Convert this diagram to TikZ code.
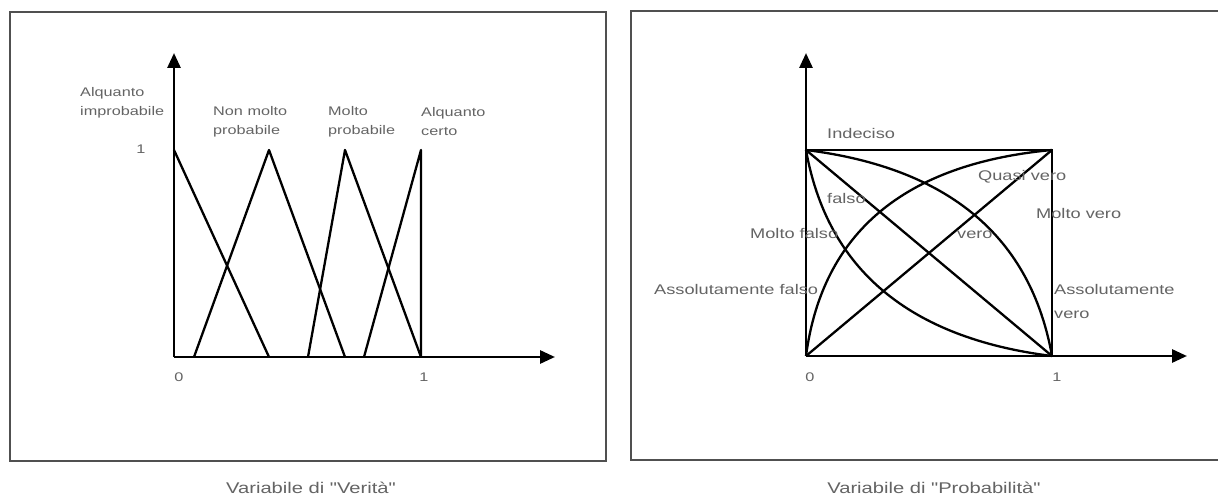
\documentclass[tikz,border=0pt]{standalone}
\usepackage{fontspec}
\setmainfont{Liberation Sans}
\newfontfamily\labfont[FakeStretch=1.3]{Liberation Sans}
\usetikzlibrary{arrows.meta}
\definecolor{txtgray}{RGB}{100,100,100}
\definecolor{framegray}{RGB}{80,80,80}
\begin{document}
\begin{tikzpicture}[x=1pt,y=-1pt,
  lbl/.style={font=\labfont\fontsize{12.5}{19}\selectfont, text=txtgray, inner sep=0pt, align=left, anchor=west},
  rlbl/.style={font=\labfont\fontsize{14}{24}\selectfont, text=txtgray, inner sep=0pt, align=left, anchor=west},
  ticklbl/.style={font=\labfont\fontsize{12.5}{14}\selectfont, text=txtgray, inner sep=0pt},
  captxt/.style={font=\labfont\fontsize{15.5}{18}\selectfont, text=txtgray, inner sep=0pt},
  framebox/.style={draw=framegray, line width=2.2pt},
  axisline/.style={draw=black, line width=2.8pt, -{Triangle[length=15pt,width=13pt]}},
  crv/.style={draw=black, line width=2.3pt, line join=round},
  sqedge/.style={draw=black, line width=2.8pt}]
\useasboundingbox (0,0) rectangle (1218,497);
\fill[white] (0,0) rectangle (1218,497);
% frames
\draw[framebox] (10,12) rectangle (606,461);
\draw[framebox] (1222,11) -- (631,11) -- (631,460) -- (1222,460);

% ---------- left panel ----------
\coordinate (O1) at (174,357);
\coordinate (Y1) at (174,53);
\coordinate (X1) at (555,357);
\coordinate (P0) at (174,150);
\coordinate (A1) at (269,357);
\coordinate (B0) at (194,357);
\coordinate (B1) at (269,150);
\coordinate (B2) at (345,357);
\coordinate (C0) at (308,357);
\coordinate (C1) at (345,150);
\coordinate (C2) at (421,357);
\coordinate (D0) at (364,357);
\coordinate (D1) at (421,150);
\draw[axisline] (O1) -- (Y1);
\draw[axisline] (O1) -- (X1);
\draw[crv] (P0) -- (A1);
\draw[crv] (B0) -- (B1) -- (B2);
\draw[crv] (C0) -- (C1) -- (C2);
\draw[crv] (D0) -- (D1) -- (C2);

\node[lbl] (l1) at (80,102.5) {Alquanto\\improbabile};
\node[lbl] (l2) at (213,122) {Non molto\\probabile};
\node[lbl] (l3) at (328,122) {Molto\\probabile};
\node[lbl] (l4) at (421,122) {Alquanto\\certo};
\node[ticklbl] (t1) at (141,149) {1};
\node[ticklbl] (t0) at (179,377) {0};
\node[ticklbl] (t2) at (424,377) {1};
\node[captxt] (c1) at (311,488) {Variabile di "Verità"};

% ---------- right panel ----------
\coordinate (O2) at (806,356);
\coordinate (Y2) at (806,53);
\coordinate (X2) at (1187,356);
\coordinate (TL) at (806,150);
\coordinate (TR) at (1052,150);
\coordinate (BR) at (1052,356);
\draw[axisline] (O2) -- (Y2);
\draw[axisline] (O2) -- (X2);
\draw[sqedge] (TL) -- (TR) -- (BR);
\draw[crv] (TL) -- (BR);
\draw[crv] (O2) -- (TR);
\draw[crv] (TL) .. controls (827.3,269.5) and (909.3,338.1) .. (BR);
\draw[crv] (TL) .. controls (948.7,167.9) and (1030.6,236.5) .. (BR);
\draw[crv] (O2) .. controls (822.4,232.4) and (904.4,163.8) .. (TR);

\node[rlbl] (r1) at (827,133) {Indeciso};
\node[rlbl] (r2) at (978,177) {Quasi vero};
\node[rlbl] (r3) at (1036,213) {Molto vero};
\node[rlbl] (r4) at (827,198) {falso};
\node[rlbl] (r5) at (750,233) {Molto falso};
\node[rlbl] (r6) at (957,235) {vero};
\node[rlbl] (r7) at (654,289) {Assolutamente falso};
\node[rlbl] (r8) at (1054,301) {Assolutamente\\vero};
\node[ticklbl] (t3) at (810,377) {0};
\node[ticklbl] (t4) at (1057,377) {1};
\node[captxt] (c2) at (934,488) {Variabile di "Probabilità"};
\end{tikzpicture}
\end{document}
